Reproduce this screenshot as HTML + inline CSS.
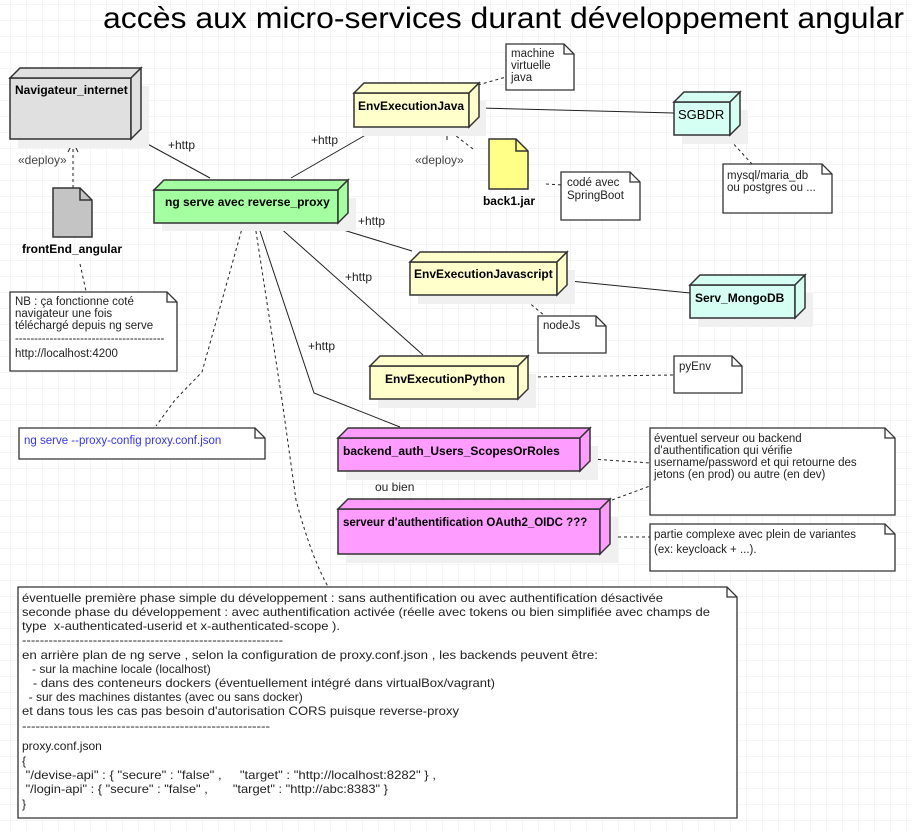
<!DOCTYPE html>
<html><head><meta charset="utf-8"><style>
html,body{margin:0;padding:0;background:#fff}
svg{display:block;font-family:"Liberation Sans",sans-serif;font-size:12px}
text{white-space:pre}
</style></head><body>
<svg width="912" height="831" viewBox="0 0 912 831" xmlns="http://www.w3.org/2000/svg">
<defs>
<pattern id="g" x="10" y="4" width="16" height="16" patternUnits="userSpaceOnUse">
<path d="M0 0H16M0 0V16" stroke="#ebebeb" stroke-width="1" fill="none"/>
</pattern>
</defs>
<rect width="912" height="831" fill="url(#g)"/>
<text x="103" y="28" font-size="30" fill="#000" textLength="801" lengthAdjust="spacingAndGlyphs">accès aux micro-services durant développement angular</text>

<!-- connectors -->
<g stroke="#222" stroke-width="1" fill="none">
<path d="M142 141L210 178"/>
<path d="M291 178L376 129"/>
<path d="M327 225L412 251"/>
<path d="M277 225L423 355"/>
<path d="M258 225L314 393L400 427"/>
<path d="M480 108L674 113"/>
<path d="M570 281L690 293"/>
</g>
<g stroke="#222" stroke-width="1" fill="none" stroke-dasharray="3,3">
<path d="M73 188L73 142"/>
<path d="M80 264L86 291"/>
<path d="M243 225L202 372L175 400L156 426"/>
<path d="M255 225L282 400L296 500Q312 560 330 590"/>
<path d="M478 85L506 77"/>
<path d="M473 149L447 129"/>
<path d="M546 184L562 185"/>
<path d="M730 140L752 164"/>
<path d="M522 297L545 316"/>
<path d="M532 377L674 375"/>
<path d="M592 459L650 463"/>
<path d="M612 500L650 486"/>
<path d="M612 537L650 537"/>
</g>
<g stroke="#222" fill="none">
<path d="M68 152L73 142L78 152"/>
<path d="M447 140L447 129L458 131"/>
</g>
<g fill="#222">
<text x="168" y="149">+http</text>
<text x="311" y="144">+http</text>
<text x="358" y="225">+http</text>
<text x="345" y="281">+http</text>
<text x="308" y="350">+http</text>
<text x="18" y="164" fill="#444">«deploy»</text>
<text x="415" y="164" fill="#444">«deploy»</text>
<text x="375" y="491">ou bien</text>
</g>

<!-- nodes: shadows -->
<g fill="#f0f0f0">
<rect x="18" y="86" width="131" height="62"/>
<rect x="162" y="198" width="194" height="33"/>
<rect x="362" y="101" width="124" height="35"/>
<rect x="682" y="110" width="66" height="34"/>
<rect x="418" y="270" width="157" height="34"/>
<rect x="698" y="293" width="115" height="34"/>
<rect x="378" y="374" width="158" height="34"/>
<rect x="346" y="446" width="252" height="34"/>
<rect x="346" y="517" width="272" height="46"/>
</g>

<g stroke="#333" stroke-width="1.5">
<rect x="10" y="78" width="121" height="61" fill="#e0e0e0"/>
<path d="M10 78L20 68H141L131 78Z" fill="#e0e0e0"/>
<path d="M131 78L141 68V129L131 139Z" fill="#e0e0e0"/>
<rect x="154" y="190" width="184" height="33" fill="#a3ff9f"/>
<path d="M154 190L164 180H348L338 190Z" fill="#a3ff9f"/>
<path d="M338 190L348 180V213L338 223Z" fill="#a3ff9f"/>
<rect x="354" y="93" width="115" height="34" fill="#ffffcc"/>
<path d="M354 93L364 83H479L469 93Z" fill="#ffffcc"/>
<path d="M469 93L479 83V117L469 127Z" fill="#ffffcc"/>
<rect x="674" y="102" width="56" height="33" fill="#d5fff3"/>
<path d="M674 102L684 92H740L730 102Z" fill="#d5fff3"/>
<path d="M730 102L740 92V125L730 135Z" fill="#d5fff3"/>
<rect x="410" y="262" width="147" height="33" fill="#ffffcc"/>
<path d="M410 262L420 252H567L557 262Z" fill="#ffffcc"/>
<path d="M557 262L567 252V285L557 295Z" fill="#ffffcc"/>
<rect x="690" y="285" width="105" height="33" fill="#d5fff3"/>
<path d="M690 285L700 275H805L795 285Z" fill="#d5fff3"/>
<path d="M795 285L805 275V308L795 318Z" fill="#d5fff3"/>
<rect x="370" y="366" width="148" height="33" fill="#ffffcc"/>
<path d="M370 366L380 356H528L518 366Z" fill="#ffffcc"/>
<path d="M518 366L528 356V389L518 399Z" fill="#ffffcc"/>
<rect x="338" y="438" width="242" height="33" fill="#ff9cff"/>
<path d="M338 438L348 428H590L580 438Z" fill="#ff9cff"/>
<path d="M580 438L590 428V461L580 471Z" fill="#ff9cff"/>
<rect x="338" y="509" width="262" height="45" fill="#ff9cff"/>
<path d="M338 509L348 499H610L600 509Z" fill="#ff9cff"/>
<path d="M600 509L610 499V544L600 554Z" fill="#ff9cff"/>
</g>
<g fill="#000" font-weight="bold">
<text x="15" y="94">Navigateur_internet</text>
<text x="165" y="206">ng serve avec reverse_proxy</text>
<text x="358" y="110">EnvExecutionJava</text>
<text x="678" y="119" font-weight="normal" font-size="13">SGBDR</text>
<text x="414" y="278">EnvExecutionJavascript</text>
<text x="695" y="302">Serv_MongoDB</text>
<text x="385" y="383">EnvExecutionPython</text>
<text x="343" y="455">backend_auth_Users_ScopesOrRoles</text>
<text x="343" y="526" font-size="11.5">serveur d'authentification OAuth2_OIDC ???</text>
</g>

<g stroke="#333" stroke-width="1.5">
<path d="M53 188H80L92 200V237H53Z" fill="#c4c4c4"/>
<path d="M80 188V200H92" fill="none"/>
<path d="M489 139H516L528 151V189H489Z" fill="#ffff88"/>
<path d="M516 139V151H528" fill="none"/>
</g>
<text x="72" y="253" text-anchor="middle" font-weight="bold">frontEnd_angular</text>
<text x="509" y="205" text-anchor="middle" font-weight="bold">back1.jar</text>

<g stroke="#333" stroke-width="1.3" fill="#fff">
<path d="M10 292H167L177 302V371H10Z"/><path d="M167 292V302H177" fill="none"/>
<path d="M19 428H255L265 438V459H19Z"/><path d="M255 428V438H265" fill="none"/>
<path d="M506 44H564L574 54V90H506Z"/><path d="M564 44V54H574" fill="none"/>
<path d="M561 172H630L640 182V220H561Z"/><path d="M630 172V182H640" fill="none"/>
<path d="M723 164H822L832 174V213H723Z"/><path d="M822 164V174H832" fill="none"/>
<path d="M538 316H596L606 326V353H538Z"/><path d="M596 316V326H606" fill="none"/>
<path d="M674 356H732L742 366V393H674Z"/><path d="M732 356V366H742" fill="none"/>
<path d="M650 428H885L895 438V515H650Z"/><path d="M885 428V438H895" fill="none"/>
<path d="M650 524H885L895 534V571H650Z"/><path d="M885 524V534H895" fill="none"/>
<path d="M18 587H727L737 597V818H18Z"/><path d="M727 587V597H737" fill="none"/>
</g>
<g fill="#222" font-size="11.5">
<text x="15" y="305">NB : ça fonctionne coté</text>
<text x="15" y="317">navigateur une fois</text>
<text x="15" y="329">téléchargé depuis ng serve</text>
<text x="15" y="342">---------------------------------------</text>
<text x="15" y="357">http://localhost:4200</text>
<text x="24" y="444" fill="#3333ff">ng serve --proxy-config proxy.conf.json</text>
<text x="511" y="57">machine</text>
<text x="511" y="69">virtuelle</text>
<text x="511" y="81">java</text>
<text x="567" y="186">codé avec</text>
<text x="567" y="199">SpringBoot</text>
<text x="727" y="179">mysql/maria_db</text>
<text x="727" y="191">ou postgres ou ...</text>
<text x="543" y="329">nodeJs</text>
<text x="679" y="370">pyEnv</text>
<text x="654" y="442">éventuel serveur ou backend</text>
<text x="654" y="454">d'authentification qui vérifie</text>
<text x="654" y="466">username/password et qui retourne des</text>
<text x="654" y="478">jetons (en prod) ou autre (en dev)</text>
<text x="654" y="538">partie complexe avec plein de variantes</text>
<text x="654" y="553">(ex: keycloack + ...).</text>
</g>
<g fill="#222" font-size="12">
<text x="22" y="602" textLength="641" lengthAdjust="spacingAndGlyphs">éventuelle première phase simple du développement : sans authentification ou avec authentification désactivée</text>
<text x="22" y="616" textLength="688" lengthAdjust="spacingAndGlyphs">seconde phase du développement : avec authentification activée (réelle avec tokens ou bien simplifiée avec champs de</text>
<text x="22" y="630" textLength="318" lengthAdjust="spacingAndGlyphs">type  x-authenticated-userid et x-authenticated-scope ).</text>
<text x="22" y="644" textLength="261" lengthAdjust="spacingAndGlyphs">-----------------------------------------------------------</text>
<text x="22" y="659" textLength="576" lengthAdjust="spacingAndGlyphs">en arrière plan de ng serve , selon la configuration de proxy.conf.json , les backends peuvent être:</text>
<text x="22" y="673">   - sur la machine locale (localhost)</text>
<text x="22" y="687" textLength="473" lengthAdjust="spacingAndGlyphs">   - dans des conteneurs dockers (éventuellement intégré dans virtualBox/vagrant)</text>
<text x="22" y="701">  - sur des machines distantes (avec ou sans docker)</text>
<text x="22" y="715" textLength="437" lengthAdjust="spacingAndGlyphs">et dans tous les cas pas besoin d'autorisation CORS puisque reverse-proxy</text>
<text x="22" y="730" textLength="248" lengthAdjust="spacingAndGlyphs">-------------------------------------------------------</text>
<text x="22" y="750">proxy.conf.json</text>
<text x="22" y="765">{</text>
<text x="22" y="779" textLength="414" lengthAdjust="spacingAndGlyphs"> "/devise-api" : { "secure" : "false" ,     "target" : "http://localhost:8282" } ,</text>
<text x="22" y="793" textLength="366" lengthAdjust="spacingAndGlyphs"> "/login-api" : { "secure" : "false" ,       "target" : "http://abc:8383" }</text>
<text x="22" y="808">}</text>
</g>
</svg>
</body></html>
